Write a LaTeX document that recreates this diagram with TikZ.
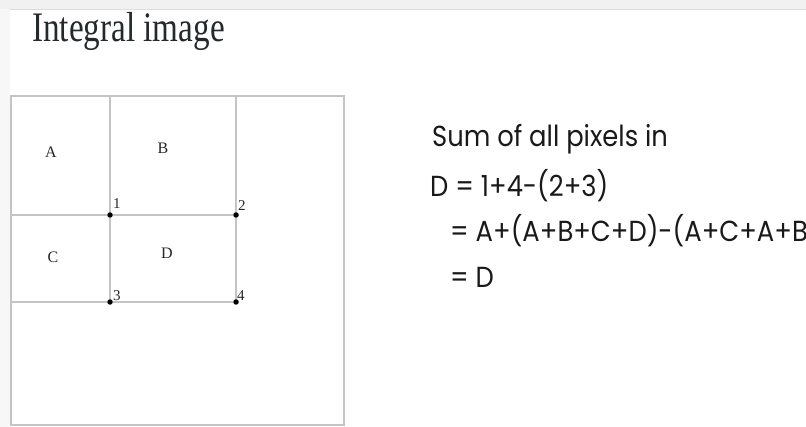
\documentclass[tikz,border=0pt]{standalone}
\usepackage{fontspec}
\setmainfont{Liberation Serif}
\newfontfamily\formulafont{Poppins}
\usetikzlibrary{positioning}

\definecolor{gridgray}{RGB}{196,196,196}
\definecolor{titlegray}{RGB}{36,41,44}
\definecolor{stripgray}{RGB}{241,241,241}

\begin{document}
\begin{tikzpicture}[
    x=1pt, y=-1pt,
    grid/.style={draw=gridgray, line width=1.6pt},
    corner/.style={circle, fill=black, inner sep=0pt, minimum size=5.5pt},
    region/.style={font=\fontsize{16}{16}\selectfont, text=black!85},
    cornerlabel/.style={font=\fontsize{15}{15}\selectfont, anchor=base west, inner sep=0pt, text=black!85},
    formula/.style={font=\formulafont\fontsize{29}{29}\selectfont, anchor=base west, inner sep=0pt, xscale=0.89, text=black!90}
]
\useasboundingbox (0,0) rectangle (806,427);
\fill[stripgray] (0,0) rectangle (806,9);
\draw[gridgray!60, line width=0.8pt] (10,9.5) -- (806,9.5);
\fill[stripgray!60] (0,9) rectangle (10,427);

\node[font=\fontsize{42}{42}\selectfont, text=titlegray, anchor=base west, inner sep=0pt, xscale=0.79] (title) at (32,42) {Integral image};

% image frame and the four rectangles
\coordinate (tl) at (11,96);
\coordinate (br) at (344,425);
\draw[grid] (tl) rectangle (br);
\coordinate (top1) at (110,96);
\coordinate (top2) at (236,96);
\coordinate (left1) at (11,215);
\coordinate (left2) at (11,302);
\node[corner] (p1) at (110,215) {};
\node[corner] (p2) at (236,215) {};
\node[corner] (p3) at (110,302) {};
\node[corner] (p4) at (236,302) {};
\draw[grid] (top1) -- (p1) -- (p3);
\draw[grid] (top2) -- (p2) -- (p4);
\draw[grid] (left1) -- (p1) -- (p2);
\draw[grid] (left2) -- (p3) -- (p4);

\node[region] (A) at (51,152) {A};
\node[region] (B) at (163,148) {B};
\node[region] (C) at (53,257) {C};
\node[region] (D) at (167,253) {D};
\node[cornerlabel] (n1) at (113,209) {1};
\node[cornerlabel] (n2) at (238,211) {2};
\node[cornerlabel] (n3) at (113,301) {3};
\node[cornerlabel] (n4) at (237,301) {4};

% the sum
\node[formula] (sum) at (432,147) {Sum of all pixels in};
\node[formula] (step1) at (430,197) {D = 1+4-(2+3)};
\node[formula] (step2) at (450,242) {= A+(A+B+C+D)-(A+C+A+B)};
\node[formula] (step3) at (450,288) {= D};
\end{tikzpicture}
\end{document}
